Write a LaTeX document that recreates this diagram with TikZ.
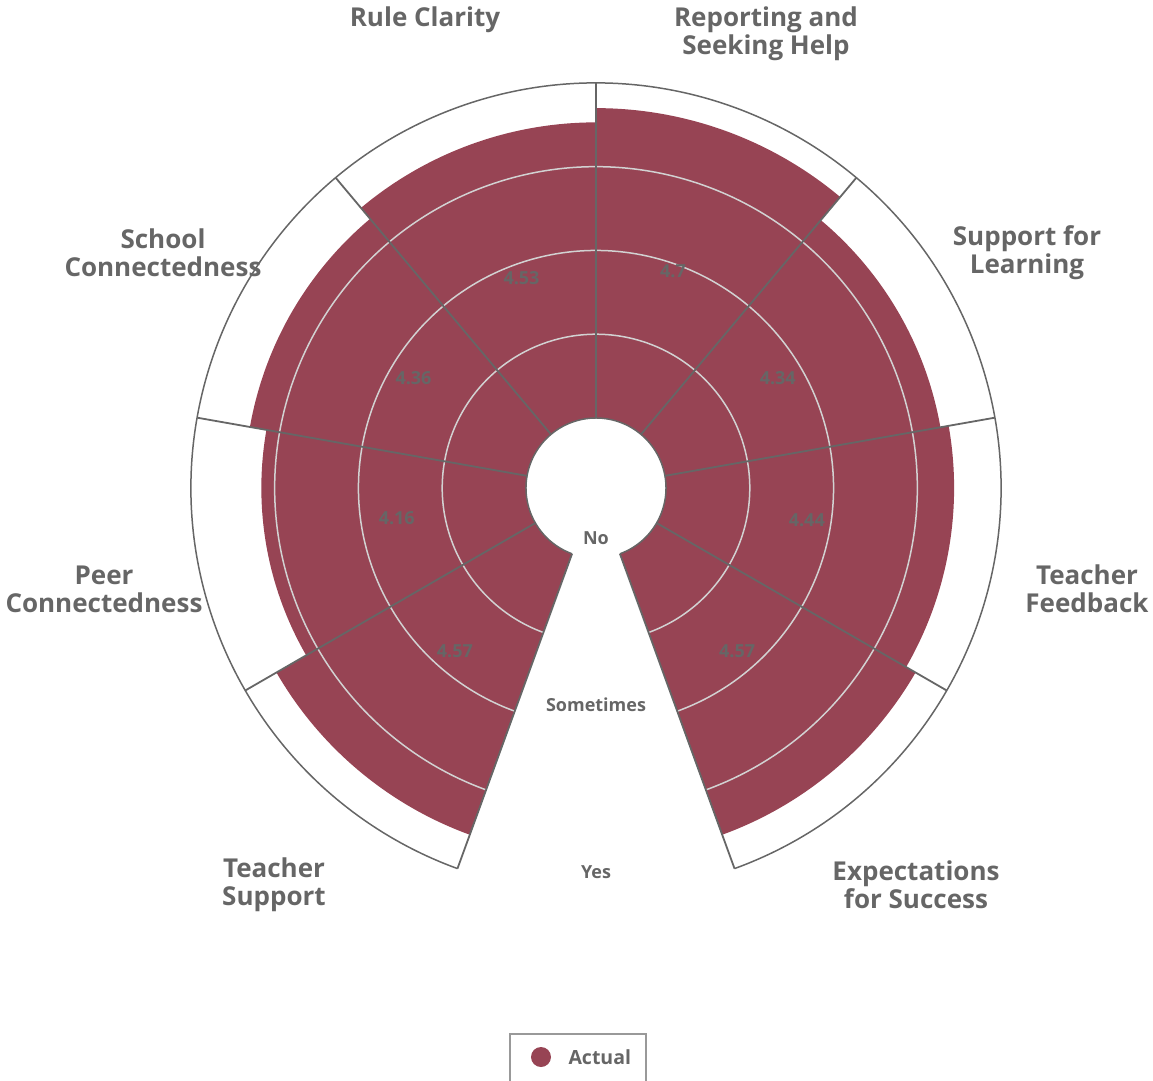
\documentclass[tikz,border=0pt]{standalone}
\usepackage{fontspec}
\setmainfont{Open Sans}
\usetikzlibrary{positioning}
\definecolor{actual}{HTML}{974454}
\definecolor{axisgray}{HTML}{666666}
\definecolor{gridgray}{HTML}{D2D2D2}
\definecolor{boxgray}{HTML}{999999}
\tikzset{%
  bar/.style={fill=actual},
  gridring/.style={draw=gridgray,line width=1.5pt},
  spoke/.style={draw=axisgray,line width=1.8pt},
  rim/.style={draw=axisgray,line width=1.5pt},
  catlabel/.style={text=axisgray,align=center,font=\fontsize{26}{28}\selectfont\bfseries},
  vallabel/.style={text=axisgray,yshift=5pt,font=\fontsize{18}{20}\selectfont\bfseries},
  scalelabel/.style={text=axisgray,font=\fontsize{18}{20}\selectfont\bfseries}
}

\begin{document}
\begin{tikzpicture}[x=1pt,y=1pt]
  \useasboundingbox (-596,-592) rectangle (557,488);

  % bars
  \foreach \s/\v in {0/4.7,40/4.34,80/4.44,120/4.57,200/4.57,240/4.16,280/4.36,320/4.53} {
    \pgfmathsetmacro\a{90-\s}
    \pgfmathsetmacro\b{50-\s}
    \pgfmathsetmacro\r{70+(\v-1)*83.75}
    \fill[bar] (\a:70) arc[start angle=\a,end angle=\b,radius=70]
      -- (\b:\r) arc[start angle=\b,end angle=\a,radius=\r] -- cycle;
  }

  % grid rings
  \foreach \r in {153.75,237.5,321.25}
    \draw[gridring] (-70:\r) arc[start angle=-70,end angle=250,radius=\r];

  % spokes and rims
  \foreach \s in {0,40,...,320}
    \draw[spoke] (90-\s:70) -- (90-\s:405);
  \draw[rim] (-70:405) arc[start angle=-70,end angle=250,radius=405];
  \draw[rim] (-70:70) arc[start angle=-70,end angle=250,radius=70];

  % values
  \foreach \s/\v in {0/4.7,40/4.34,80/4.44,120/4.57,200/4.57,240/4.16,280/4.36,320/4.53} {
    \pgfmathsetmacro\m{70-\s}
    \pgfmathsetmacro\q{(140+(\v-1)*83.75)/2}
    \node[vallabel] (val\s) at (\m:\q) {\v};
  }

  % scale
  \node[scalelabel] (no) at (0,-50) {No};
  \node[scalelabel] (sometimes) at (0,-217) {Sometimes};
  \node[scalelabel] (yes) at (0,-384) {Yes};

  % categories
  \node[catlabel] (rule) at (-171,468) {Rule Clarity};
  \node[catlabel] (report) at (170,454) {Reporting and\\Seeking Help};
  \node[catlabel] (learn) at (431,235) {Support for\\Learning};
  \node[catlabel] (feedback) at (491,-101) {Teacher\\Feedback};
  \node[catlabel] (expect) at (320,-397) {Expectations\\for Success};
  \node[catlabel] (tsupport) at (-322,-397) {Teacher\\Support};
  \node[catlabel] (peer) at (-492,-101) {Peer\\Connectedness};
  \node[catlabel] (school) at (-433,235) {School\\Connectedness};

  % legend
  \draw[draw=boxgray,line width=1.5pt] (-86,-546) rectangle (50,-600);
  \fill[actual] (-55,-569) circle[radius=10];
  \node[scalelabel,font=\fontsize{19.5}{22}\selectfont\bfseries,anchor=west] (legend) at (-31,-569) {Actual};
\end{tikzpicture}
\end{document}
